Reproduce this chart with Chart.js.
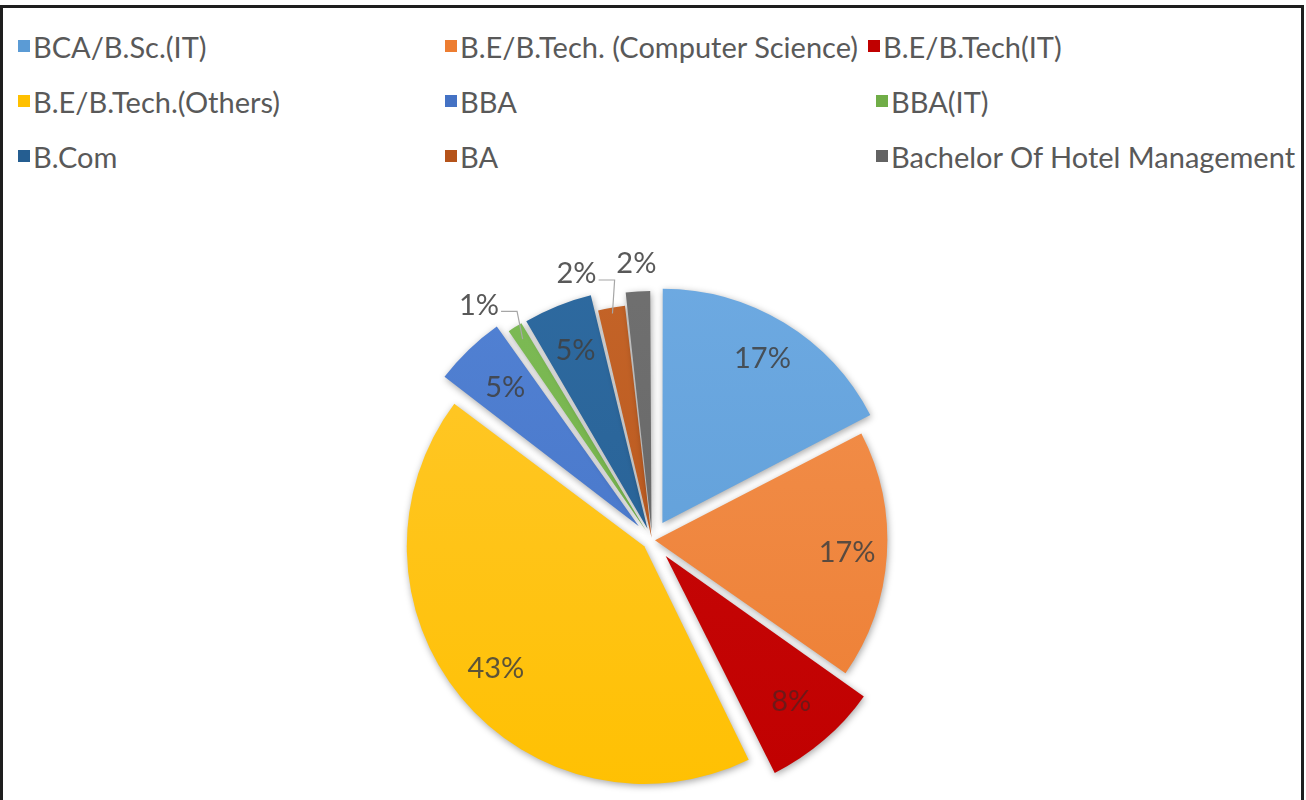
<!DOCTYPE html>
<html>
<head>
<meta charset="utf-8">
<script src="https://cdn.jsdelivr.net/npm/chart.js@4.4.0/dist/chart.umd.min.js"></script>
<style>
    html, body { margin: 0; padding: 0; background: #fff; }
    body { width: 1306px; height: 800px; position: relative; overflow: hidden; }
    #frame {
        position: absolute; left: 0; top: 5px; width: 1298px; height: 810px;
        border: 3px solid #1e1e1e; box-sizing: content-box;
    }
    #legend {
        position: absolute; left: 0; top: 0; width: 1306px; height: 190px;
        font-family: Lato, "Open Sans", sans-serif; font-size: 29px; color: #595959;
    }
    .item { position: absolute; display: flex; align-items: center; white-space: nowrap; }
    .box { width: 12px; height: 12px; margin-right: 3px; }
    #wrap { position: absolute; left: 0; top: 0; width: 1306px; height: 840px; }
</style>
</head>
<body>
<div id="frame"></div>
<div id="legend"></div>
<div id="wrap"><canvas id="pieChart"></canvas></div>
<script>
// chart data (shares, labels show rounded %)
const categories = [
    'BCA/B.Sc.(IT)',
    'B.E/B.Tech. (Computer Science)',
    'B.E/B.Tech(IT)',
    'B.E/B.Tech.(Others)',
    'BBA',
    'BBA(IT)',
    'B.Com',
    'BA',
    'Bachelor Of Hotel Management'
];
const shares = [17.4, 17.3, 8.0, 42.6, 5.0, 1.2, 4.8, 1.9, 1.8];

// styling
const colors = ['#5b9bd5', '#ed7d31', '#c00000', '#ffc000', '#4472c4', '#70ad47', '#255e91', '#b5531a', '#636363'];
const lightColors = ['#6eaae2', '#f2914f', '#c80a0a', '#ffc82e', '#5282d4', '#7dbb55', '#2e6aa0', '#c46428', '#707070'];
const offsets = [20, 3, 21, 10, 19, 11, 12, 2, 9]; // visible slice shift in px
const labelNudge = [0, 0, 0, 0, 0, -22, 0, -29, 0]; // x shift for outside labels
const legendX = [18, 445, 868];
const legendY = [47, 102, 157];

document.addEventListener('DOMContentLoaded', () => {
    // legend in a 3 column grid, like the original
    const legend = document.getElementById('legend');
    categories.forEach((name, i) => {
        const item = document.createElement('div');
        item.className = 'item';
        item.style.left = (legendX[i % 3] + (i % 3 === 2 && i > 2 ? 8 : 0)) + 'px';
        item.style.top = (legendY[Math.floor(i / 3)] - 19) + 'px';
        item.style.height = '36px';
        item.innerHTML = '<span class="box" style="background:' + colors[i] + '"></span>' + name;
        legend.appendChild(item);
    });

    // soft shadow under the slices
    const shadowPlugin = {
        id: 'sliceShadow',
        beforeDatasetsDraw(chart) {
            const ctx = chart.ctx;
            ctx.save();
            ctx.shadowColor = 'rgba(0,0,0,0.35)';
            ctx.shadowBlur = 7;
            ctx.shadowOffsetX = 1;
            ctx.shadowOffsetY = 2;
        },
        afterDatasetsDraw(chart) {
            chart.ctx.restore();
        }
    };

    // percentage labels, inside or outside with leader line
    const labelPlugin = {
        id: 'pctLabels',
        afterDatasetsDraw(chart) {
            const ctx = chart.ctx;
            const meta = chart.getDatasetMeta(0);
            ctx.save();
            ctx.font = '29px Lato, "Open Sans", sans-serif';
            ctx.textAlign = 'center';
            ctx.textBaseline = 'middle';
            meta.data.forEach((arc, i) => {
                const p = arc.getProps(['x', 'y', 'startAngle', 'endAngle', 'outerRadius'], true);
                const mid = (p.startAngle + p.endAngle) / 2;
                const off = offsets[i];
                const cx = Math.cos(mid), cy = Math.sin(mid);
                const text = Math.round(shares[i]) + '%';
                if (shares[i] >= 3) {
                    const r = p.outerRadius * 0.83 + off;
                    ctx.fillStyle = i === 2 ? 'rgba(90,30,30,0.8)' : 'rgba(64,64,64,0.85)';
                    ctx.fillText(text, p.x + cx * r, p.y + cy * r);
                } else {
                    const r = p.outerRadius + off + 36;
                    const tx = p.x + cx * r + labelNudge[i];
                    const ty = p.y + cy * r;
                    ctx.fillStyle = '#595959';
                    ctx.fillText(text, tx, ty);
                    if (labelNudge[i] !== 0) {
                        const w = ctx.measureText(text).width;
                        const edge = p.outerRadius + off - 4;
                        const ex = p.x + cx * edge, ey = p.y + cy * edge;
                        const sx = tx + w / 2 + 2, sy = ty + 6;
                        ctx.strokeStyle = '#a6a6a6';
                        ctx.lineWidth = 1.2;
                        ctx.beginPath();
                        ctx.moveTo(sx, sy);
                        ctx.lineTo(sx + 16, sy);
                        ctx.lineTo(ex, ey);
                        ctx.stroke();
                    }
                }
            });
            ctx.restore();
        }
    };

    const ctx = document.getElementById('pieChart').getContext('2d');
    const pieChart = new Chart(ctx, {
        type: 'pie',
        data: {
            labels: categories,
            datasets: [{
                data: shares,
                backgroundColor: function(context) {
                    const chart = context.chart;
                    const area = chart.chartArea;
                    const i = context.dataIndex;
                    if (!area) return colors[i];
                    const g = chart.ctx.createLinearGradient(0, area.top, 0, area.bottom);
                    g.addColorStop(0, lightColors[i]);
                    g.addColorStop(1, colors[i]);
                    return g;
                },
                borderWidth: 0,
                // chart.js draws arcs shifted by offset / 4
                offset: offsets.map(o => o * 4)
            }]
        },
        options: {
            responsive: true,
            maintainAspectRatio: false,
            animation: false,
            layout: {
                padding: { top: 266, bottom: 26, left: 0, right: 2 }
            },
            plugins: {
                legend: { display: false },
                tooltip: { enabled: false }
            }
        },
        plugins: [shadowPlugin, labelPlugin]
    });
});
</script>
</body>
</html>
